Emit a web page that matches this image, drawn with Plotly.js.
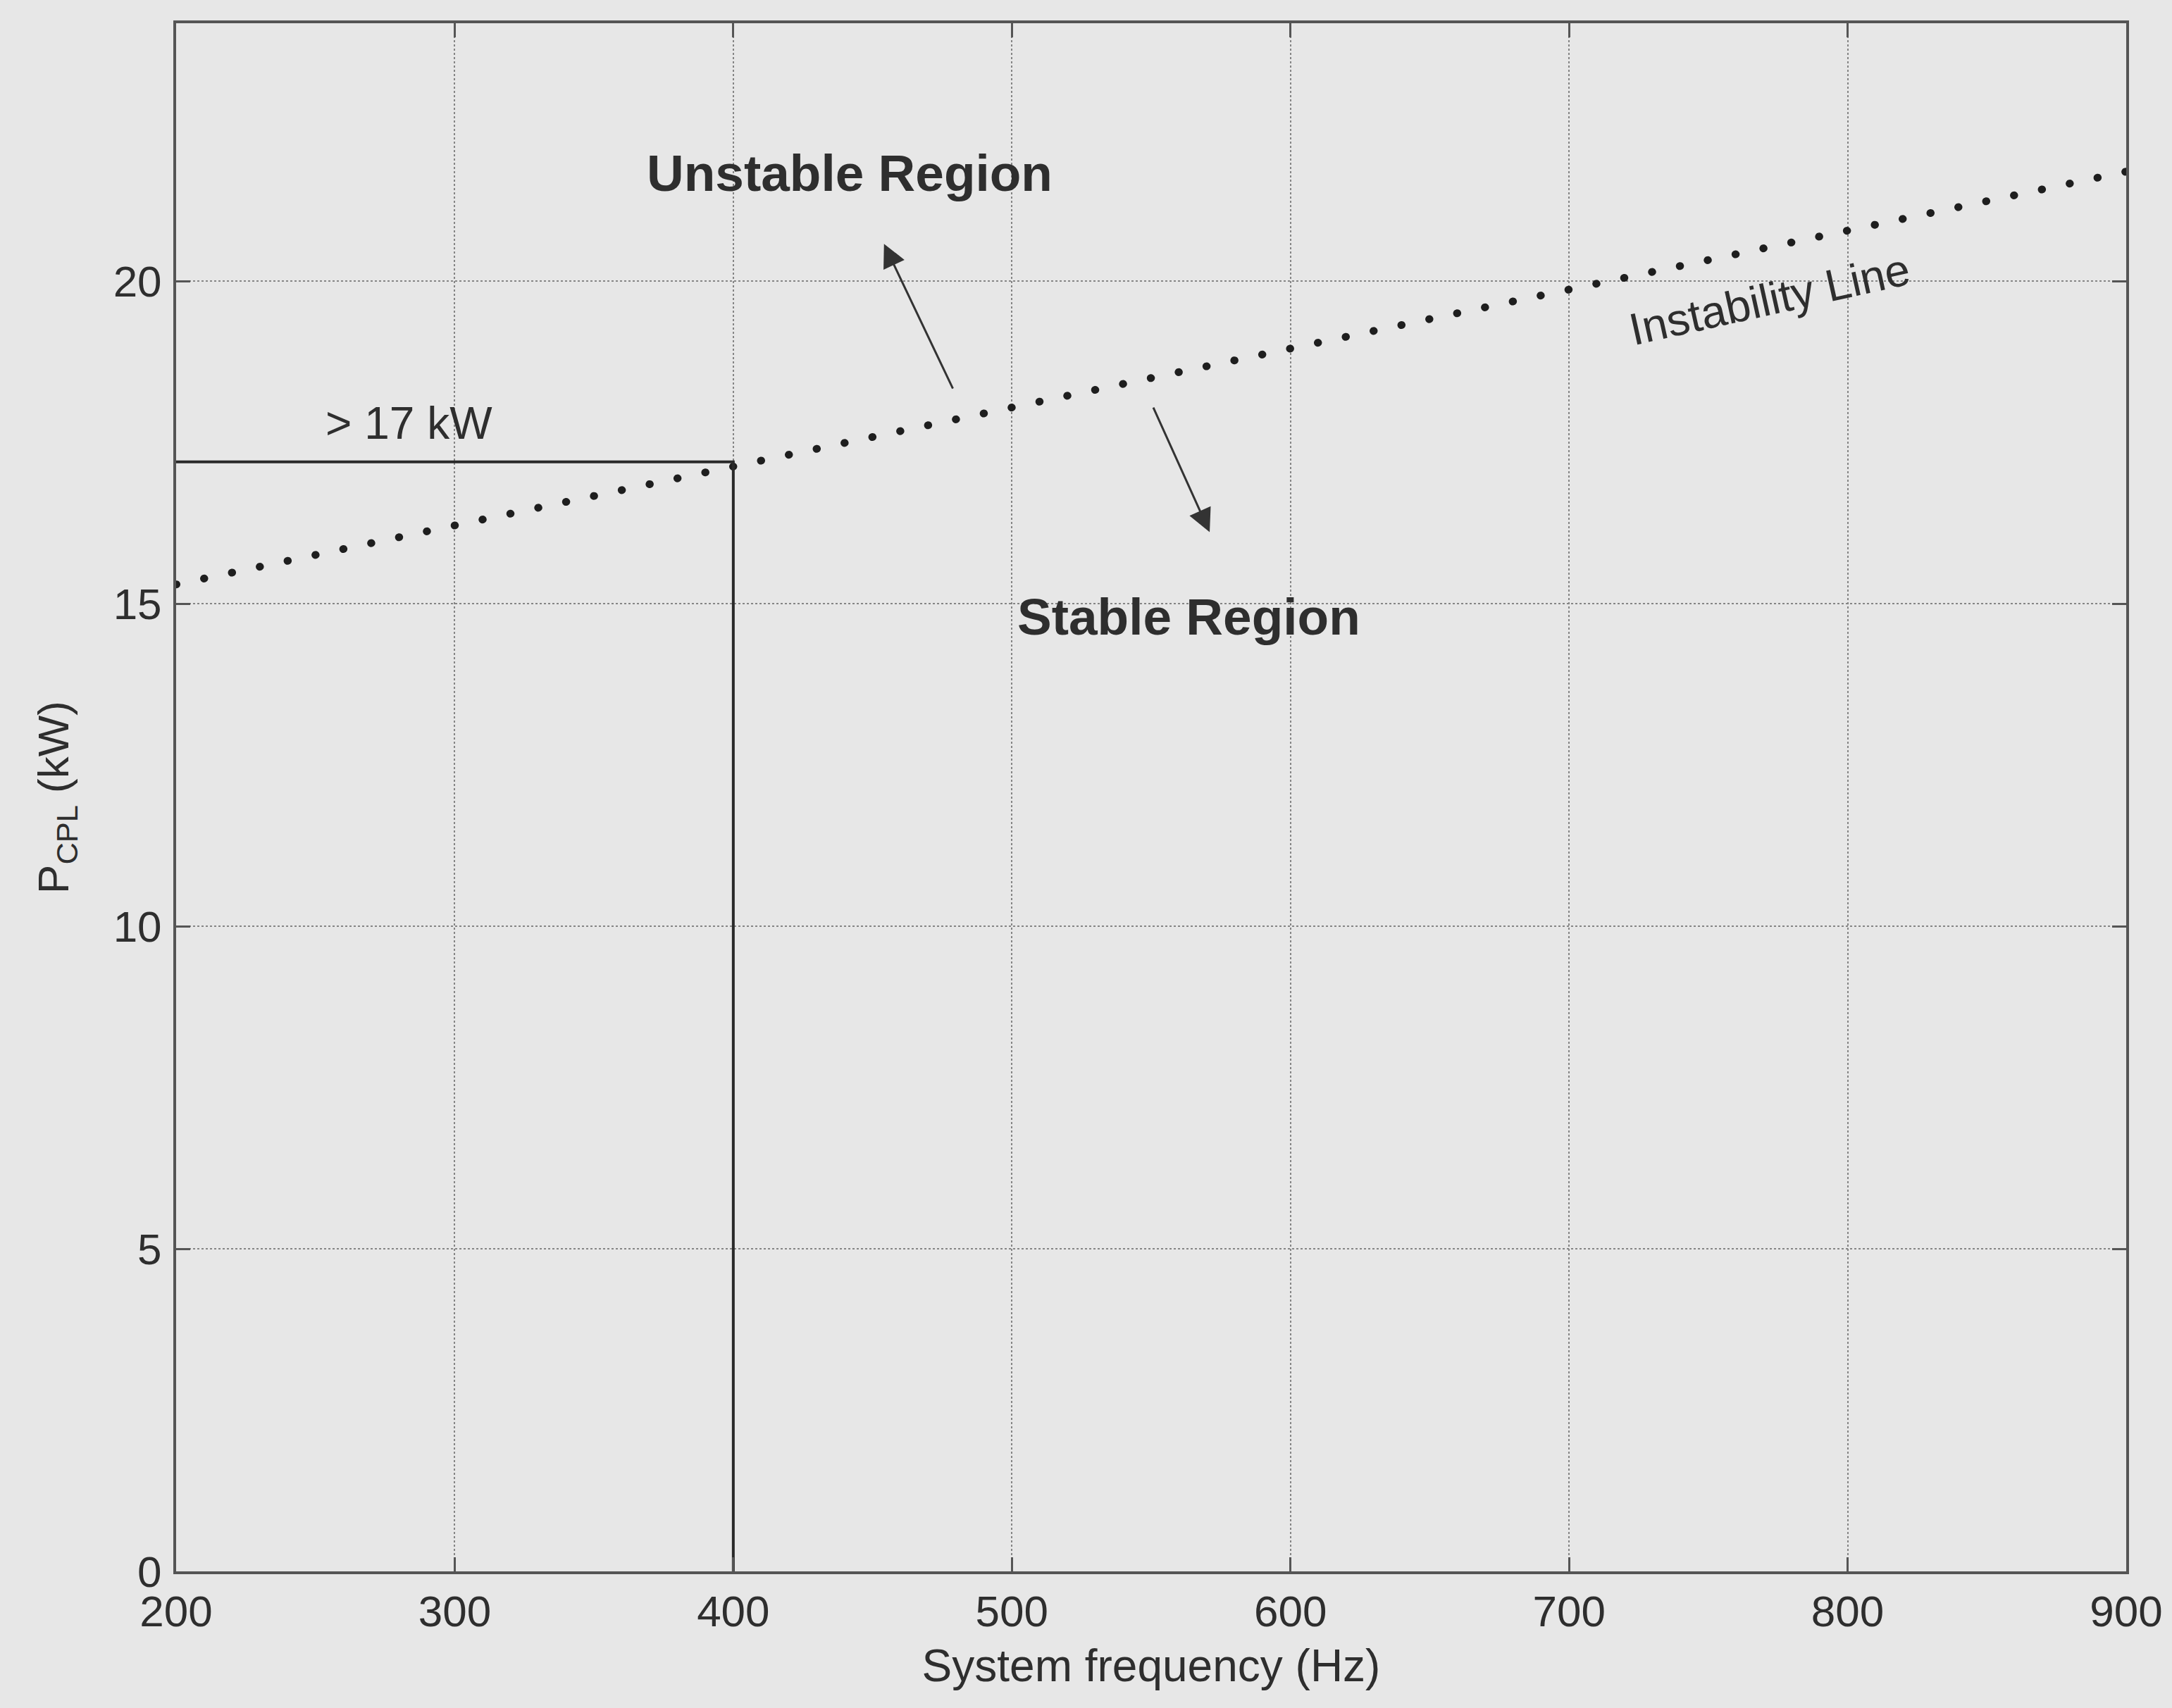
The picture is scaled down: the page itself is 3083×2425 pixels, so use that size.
<!DOCTYPE html>
<html>
<head>
<meta charset="utf-8">
<script src="https://cdn.plot.ly/plotly-3.0.1.min.js"></script>
<style>
  html, body { margin: 0; padding: 0; background: #e6e6e6; }
  #chart { width: 3083px; height: 2425px; }
  /* round caps turn the short dashes of the instability line into dots */
  .scatterlayer .trace:first-child .js-line { stroke-linecap: round; }
</style>
</head>
<body>
<div id="chart"></div>
<script>
// Instability boundary: CPL power limit vs. system frequency
const instabilityFreq = [200, 900];          // Hz
const instabilityPower = [15.3, 21.7];       // kW

// Stable operating limit at 400 Hz (> 17 kW)
const limitFreq = [200, 400, 400];           // Hz
const limitPower = [17.2, 17.2, 0];          // kW

const xTicks = [200, 300, 400, 500, 600, 700, 800, 900];
const yTicks = [0, 5, 10, 15, 20];

const FONT = 'Liberation Sans, Arial, sans-serif';
const INK = '#2e2e2e';

const traces = [
  {
    x: instabilityFreq, y: instabilityPower,
    mode: 'lines', type: 'scatter',
    line: { color: '#1e1e1e', width: 11, dash: '0.5px,39.9px' },
    hoverinfo: 'skip'
  },
  {
    x: limitFreq, y: limitPower,
    mode: 'lines', type: 'scatter',
    line: { color: '#2a2a2a', width: 4 },
    hoverinfo: 'skip'
  }
];

const layout = {
  width: 3083, height: 2425,
  paper_bgcolor: '#e7e7e7',
  plot_bgcolor: '#e7e7e7',
  showlegend: false,
  margin: { l: 250, r: 65, t: 33, b: 194 },
  font: { family: FONT, size: 62, color: INK },
  xaxis: {
    range: [200, 900],
    tickvals: xTicks,
    ticktext: xTicks.map(String),
    ticks: 'inside', ticklen: 20, tickwidth: 3, tickcolor: '#555',
    showline: true, linecolor: '#555', linewidth: 4, mirror: 'ticks',
    showgrid: true, gridcolor: '#858585', gridwidth: 2, griddash: 'dot',
    zeroline: false,
    tickfont: { family: FONT, size: 62, color: INK },
    ticklabelstandoff: 0,
    title: { text: 'System frequency (Hz)', font: { family: FONT, size: 64, color: INK }, standoff: 22 }
  },
  yaxis: {
    range: [0, 24],
    tickvals: yTicks,
    ticktext: yTicks.map(String),
    ticks: 'inside', ticklen: 20, tickwidth: 3, tickcolor: '#555',
    showline: true, linecolor: '#555', linewidth: 4, mirror: 'ticks',
    showgrid: true, gridcolor: '#858585', gridwidth: 2, griddash: 'dot',
    zeroline: false,
    tickfont: { family: FONT, size: 62, color: INK },
    ticklabelstandoff: 4,
    title: { text: 'P<sub>CPL</sub> (kW)', font: { family: FONT, size: 62, color: INK }, standoff: 44 }
  },
  annotations: [
    { x: 441.7, y: 21.68, xref: 'x', yref: 'y', text: '<b>Unstable Region</b>', showarrow: false,
      font: { family: FONT, size: 73, color: INK }, xanchor: 'center', yanchor: 'middle' },
    { x: 563.5, y: 14.8, xref: 'x', yref: 'y', text: '<b>Stable Region</b>', showarrow: false,
      font: { family: FONT, size: 73, color: INK }, xanchor: 'center', yanchor: 'middle' },
    { x: 283.5, y: 17.8, xref: 'x', yref: 'y', text: '> 17 kW', showarrow: false,
      font: { family: FONT, size: 64, color: INK }, xanchor: 'center', yanchor: 'middle' },
    { x: 772, y: 19.72, xref: 'x', yref: 'y', text: 'Instability Line', showarrow: false,
      textangle: -12.5, font: { family: FONT, size: 64, color: INK }, xanchor: 'center', yanchor: 'middle' },
    // arrows pointing into each region
    { x: 454.1, y: 20.58, ax: 479, ay: 18.32, xref: 'x', yref: 'y', axref: 'x', ayref: 'y',
      text: '', showarrow: true, arrowhead: 2, arrowsize: 2.2, arrowwidth: 3, arrowcolor: '#333' },
    { x: 571, y: 16.11, ax: 550.6, ay: 18.06, xref: 'x', yref: 'y', axref: 'x', ayref: 'y',
      text: '', showarrow: true, arrowhead: 2, arrowsize: 2.2, arrowwidth: 3, arrowcolor: '#333' }
  ]
};

Plotly.newPlot('chart', traces, layout, { staticPlot: true, displayModeBar: false }).then(function (gd) {
  // drop the empty text nodes left by arrow-only annotations and unused titles
  gd.querySelectorAll('text').forEach(function (t) {
    if (!t.textContent.trim()) t.remove();
  });
});
</script>
</body>
</html>
